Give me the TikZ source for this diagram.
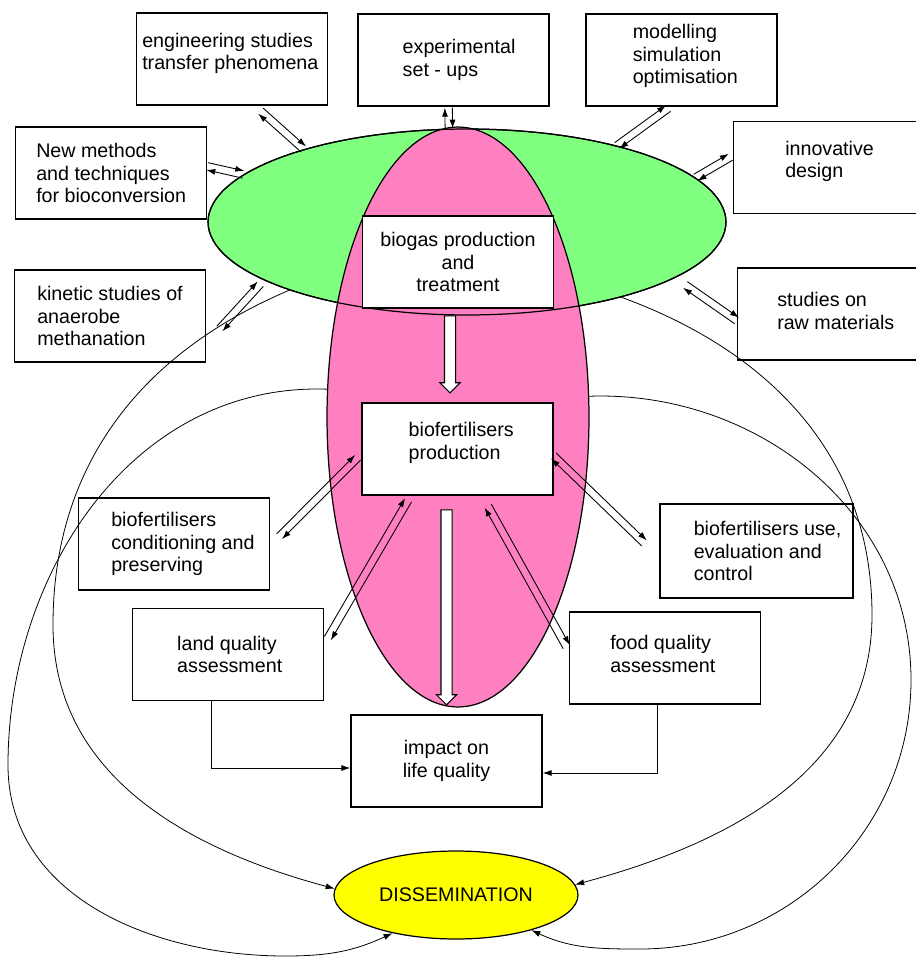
\documentclass[tikz,border=0pt]{standalone}
\usepackage{fontspec}
\setmainfont{Liberation Sans}
\usetikzlibrary{arrows.meta, positioning, shapes.geometric, shapes.arrows, calc}
\definecolor{cgreen}{HTML}{80FF80}
\definecolor{cpink}{HTML}{FF80C0}
\definecolor{cyellow}{HTML}{FFFF00}
\tikzset{
  every picture/.style={font=\fontsize{11.2}{12.7}\selectfont, x=0.02cm, y=-0.02cm},
  box/.style={draw, fill=white, line width=0.7pt, minimum width=3.82cm, minimum height=1.84cm, inner sep=0pt, align=center},
  txt/.style={inner sep=0pt, align=left},
  blob/.style={ellipse, draw, fill=#1, line width=0.7pt, inner sep=0pt},
  arrow/.style={-{Latex[length=1.8mm, width=1.2mm]}, line width=0.5pt},
  feedback/.style={arrow, line width=0.45pt},
  fat/.style={single arrow, draw, fill=white, line width=0.6pt, inner sep=0.1cm, single arrow head extend=0.09cm, shape border rotate=270},
}
% two opposite parallel arrows between #1 and #2, gaps #3 (at #1) and #4 (at #2)
\newcommand{\biarrow}[4]{%
  \draw[arrow, shorten <=#3, shorten >=#4] ($(#1)!0.075cm!90:(#2)$) -- ($(#2)!0.075cm!-90:(#1)$);
  \draw[arrow, shorten <=#4, shorten >=#3] ($(#2)!0.075cm!90:(#1)$) -- ($(#1)!0.075cm!-90:(#2)$);
}

\begin{document}
\begin{tikzpicture}
  \useasboundingbox (0,0) rectangle (916,961);
  % the two overlapping fields
  \node[blob=cgreen, minimum width=10.36cm, minimum height=3.72cm] (green) at (467,222) {};
  \node[blob=cpink, minimum width=5.24cm, minimum height=11.6cm] (pink) at (458,417) {};
  \draw[line width=0.7pt] (green.center) ellipse [x radius=5.18cm, y radius=1.86cm];
  \node[blob=cyellow, minimum width=4.88cm, minimum height=1.76cm] (dis) at (456,895) {DISSEMINATION};

  % boxes round the fields
  \node[box] (eng) at (232,59) {};
  \node[txt, right=0.12cm of eng.west, yshift=0.11cm] (eng-t) {engineering studies\\transfer phenomena};
  \node[box] (exp) at (453.5,60) {};
  \node[txt, right=0.9cm of exp.west] (exp-t) {experimental\\set - ups};
  \node[box] (model) at (681.5,60) {};
  \node[txt, right=0.94cm of model.west, yshift=0.08cm] (model-t) {modelling\\simulation\\optimisation};
  \node[box] (new) at (111,173) {};
  \node[txt, right=0.42cm of new.west] (new-t) {New methods\\and techniques\\for bioconversion};
  \node[box] (innov) at (829,167.5) {};
  \node[txt, right=1.04cm of innov.west, yshift=0.12cm] (innov-t) {innovative\\design};
  \node[box] (kinetic) at (110,316) {};
  \node[txt, right=0.46cm of kinetic.west] (kinetic-t) {kinetic studies of\\anaerobe\\methanation};
  \node[box] (raw) at (833,314) {};
  \node[txt, right=0.8cm of raw.west, yshift=0.06cm] (raw-t) {studies on\\raw materials};
  \node[box] (biogas) at (458,262) {biogas production\\and\\treatment};
  \node[box] (biofert) at (457.5,449) {};
  \node[txt, right=0.94cm of biofert.west, yshift=0.12cm] (biofert-t) {biofertilisers\\production};
  \node[box] (cond) at (174,544) {};
  \node[txt, right=0.66cm of cond.west] (cond-t) {biofertilisers\\conditioning and\\preserving};
  \node[box, minimum width=3.86cm, minimum height=1.88cm] (use) at (756.5,551) {};
  \node[txt, right=0.68cm of use.west] (use-t) {biofertilisers use,\\evaluation and\\control};
  \node[box] (land) at (228,654.5) {};
  \node[txt, right=0.9cm of land.west] (land-t) {land quality\\assessment};
  \node[box] (food) at (665,658) {};
  \node[txt, right=0.82cm of food.west, yshift=0.08cm] (food-t) {food quality\\assessment};
  \node[box] (impact) at (446.5,761) {impact on\\life quality};

  % main flow
  \node[fat, minimum height=1.54cm] (flow1) at (450,351.5) {};
  \node[fat, minimum height=3.9cm] (flow2) at (446.5,604.5) {};

  % exchanges with the fields
  \biarrow{eng.-64}{green.156}{0.16cm}{0pt}
  \biarrow{new.4}{green.168}{0pt}{0pt}
  \biarrow{kinetic.-16}{green.196}{0.4cm}{0.1cm}
  \biarrow{exp.-96}{green.101}{0.02cm}{0pt}
  \biarrow{model.-103}{green.27}{0.06cm}{0pt}
  \biarrow{innov.173}{green.11}{0.05cm}{0pt}
  \biarrow{raw.184}{green.-15}{0pt}{0.24cm}
  \biarrow{cond.-1}{biofert.183}{0.26cm}{0.1cm}
  \biarrow{land.6}{biofert.-135}{0.14cm}{0.1cm}
  \biarrow{use.184}{biofert.-4}{0.42cm}{0pt}
  \biarrow{food.176}{biofert.-62}{0.1cm}{0.23cm}

  \draw[arrow] ([xshift=-0.34cm]land.south) |- ([yshift=-0.14cm]impact.west);
  \draw[arrow] ([xshift=-0.16cm]food.south) |- ([yshift=-0.24cm]impact.east);

  % everything ends in dissemination
  \draw[feedback] (pink.168) to[out=178,in=90] (8,765) to[out=-90,in=180] (285,956) to[out=0,in=205] (dis.211);
  \draw[feedback] (green.201) to[out=203,in=90] (53,625) to[out=-90,in=165] (dis.177);
  \draw[feedback] (green.-26) to[out=-20,in=90] (872,615) to[out=-90,in=15] (dis.5);
  \draw[feedback] (pink.9) to[out=2,in=90] (911,680) to[out=-90,in=0] (640,949) to[out=180,in=-25] (dis.335);
\end{tikzpicture}
\end{document}
